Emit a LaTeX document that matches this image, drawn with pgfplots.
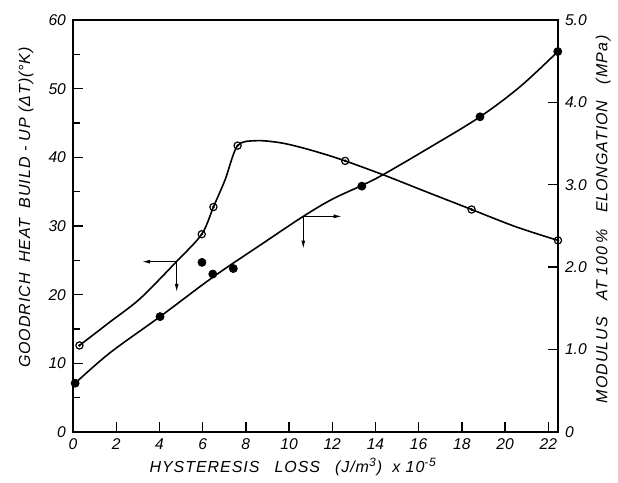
\documentclass[border=0pt]{standalone}
\usepackage{pgfplots}
\pgfplotsset{compat=1.18}
\usepackage{fontspec}
\setmainfont{Liberation Sans}
\newfontfamily\lsfont[LetterSpace=6]{Liberation Sans}
\usetikzlibrary{arrows.meta}

\begin{document}
\begin{tikzpicture}
\pgfplotsset{
 base/.style={
  width=242.5pt, height=206pt, scale only axis,
  xmin=0, xmax=22.45,
  clip=false,
  axis line style={line width=0.8pt},
  tick style={line width=0.7pt, black},
  major tick length=5pt, minor tick length=3.5pt,
  tick align=inside,
  /pgf/number format/assume math mode=true,
  tick label style={font=\fontsize{7.8}{9}\selectfont\itshape},
  label style={font=\fontsize{8}{10}\selectfont\lsfont\itshape},
 }
}
\begin{axis}[base,
  ymin=0, ymax=60,
  xtick={0,2,...,22},
  ytick={0,10,...,60}, minor ytick={5,15,...,55},
  xtick pos=bottom, ytick pos=left,
  xlabel={HYSTERESIS\hspace{0.6em} LOSS\hspace{0.6em} (J/m\textsuperscript{3})\hspace{0.3em} x 10\textsuperscript{-5}},
  ylabel={GOODRICH\hspace{0.3em} HEAT\hspace{0.3em} BUILD - UP (ΔT)(°K)},
  xlabel style={at={(axis description cs:0.454,-0.085)},anchor=center},
  ylabel style={at={(axis description cs:-0.097,0.545)},anchor=center},
]
% fitted curve (heat build-up)
\addplot[smooth, tension=0.55, line width=0.8pt] coordinates {
 (0.1,7.1) (1.7,11.5) (4.03,16.8) (6.5,22.6) (8.66,27.2) (10.66,31.4)
 (12.0,33.9) (13.37,35.9) (14.37,37.5) (16.6,41.6) (18.84,45.9) (20.7,50.3) (22.44,55.4)
};
\addplot[only marks, mark=*, mark size=2pt] coordinates {
 (0.1,7.1) (4.03,16.8) (5.97,24.7) (6.47,23.0) (7.42,23.8) (13.37,35.8) (18.84,45.9) (22.44,55.4)
};
\draw[line width=0.5pt, -{Latex[length=4pt,width=2pt]}] (axis cs:4.8,24.8) -- (axis cs:3.2,24.8);
\draw[line width=0.5pt, -{Latex[length=4pt,width=2pt]}] (axis cs:4.8,24.8) -- (axis cs:4.8,20.4);
\draw[line width=0.5pt, -{Latex[length=4pt,width=2pt]}] (axis cs:10.66,31.4) -- (axis cs:12.44,31.4);
\draw[line width=0.5pt, -{Latex[length=4pt,width=2pt]}] (axis cs:10.66,31.4) -- (axis cs:10.66,26.7);
\end{axis}

\begin{axis}[base,
  ymin=0, ymax=5,
  axis y line*=right, axis x line=none,
  ytick={0,1,...,5}, yticklabels={0,1.0,2.0,3.0,4.0,5.0},
  ylabel={MODULUS\hspace{0.7em} AT 100\,\%\hspace{0.7em} ELONGATION\hspace{0.7em} (MPa\,)},
  ylabel style={at={(axis description cs:1.093,0.517)},anchor=center},
]
% fitted curve (modulus)
\addplot[smooth, tension=0.5, line width=0.8pt] coordinates {
 (0.3,1.05) (1.7,1.333) (3.1,1.617) (4.8,2.07) (5.96,2.40) (6.5,2.73) (7.04,3.06)
 (7.62,3.475) (8.5,3.535) (9.6,3.51) (10.6,3.45) (11.6,3.375) (12.6,3.29)
 (14.37,3.12) (16.4,2.91) (18.45,2.70) (20.5,2.49) (22.45,2.325)
};
\addplot[only marks, mark=o, mark size=1.8pt, mark options={fill=white, line width=0.6pt}] coordinates {
 (0.3,1.05) (5.96,2.40) (6.5,2.73) (7.62,3.475) (12.6,3.29) (18.45,2.70) (22.45,2.325)
};
\addplot[only marks, mark=*, mark size=0.45pt] coordinates {
 (0.3,1.05) (5.96,2.40) (6.5,2.73) (7.62,3.475) (12.6,3.29) (18.45,2.70) (22.45,2.325)
};
\path (rel axis cs:-0.1505,-0.119) rectangle (rel axis cs:1.1237,1.0485);
\end{axis}
\end{tikzpicture}
\end{document}
